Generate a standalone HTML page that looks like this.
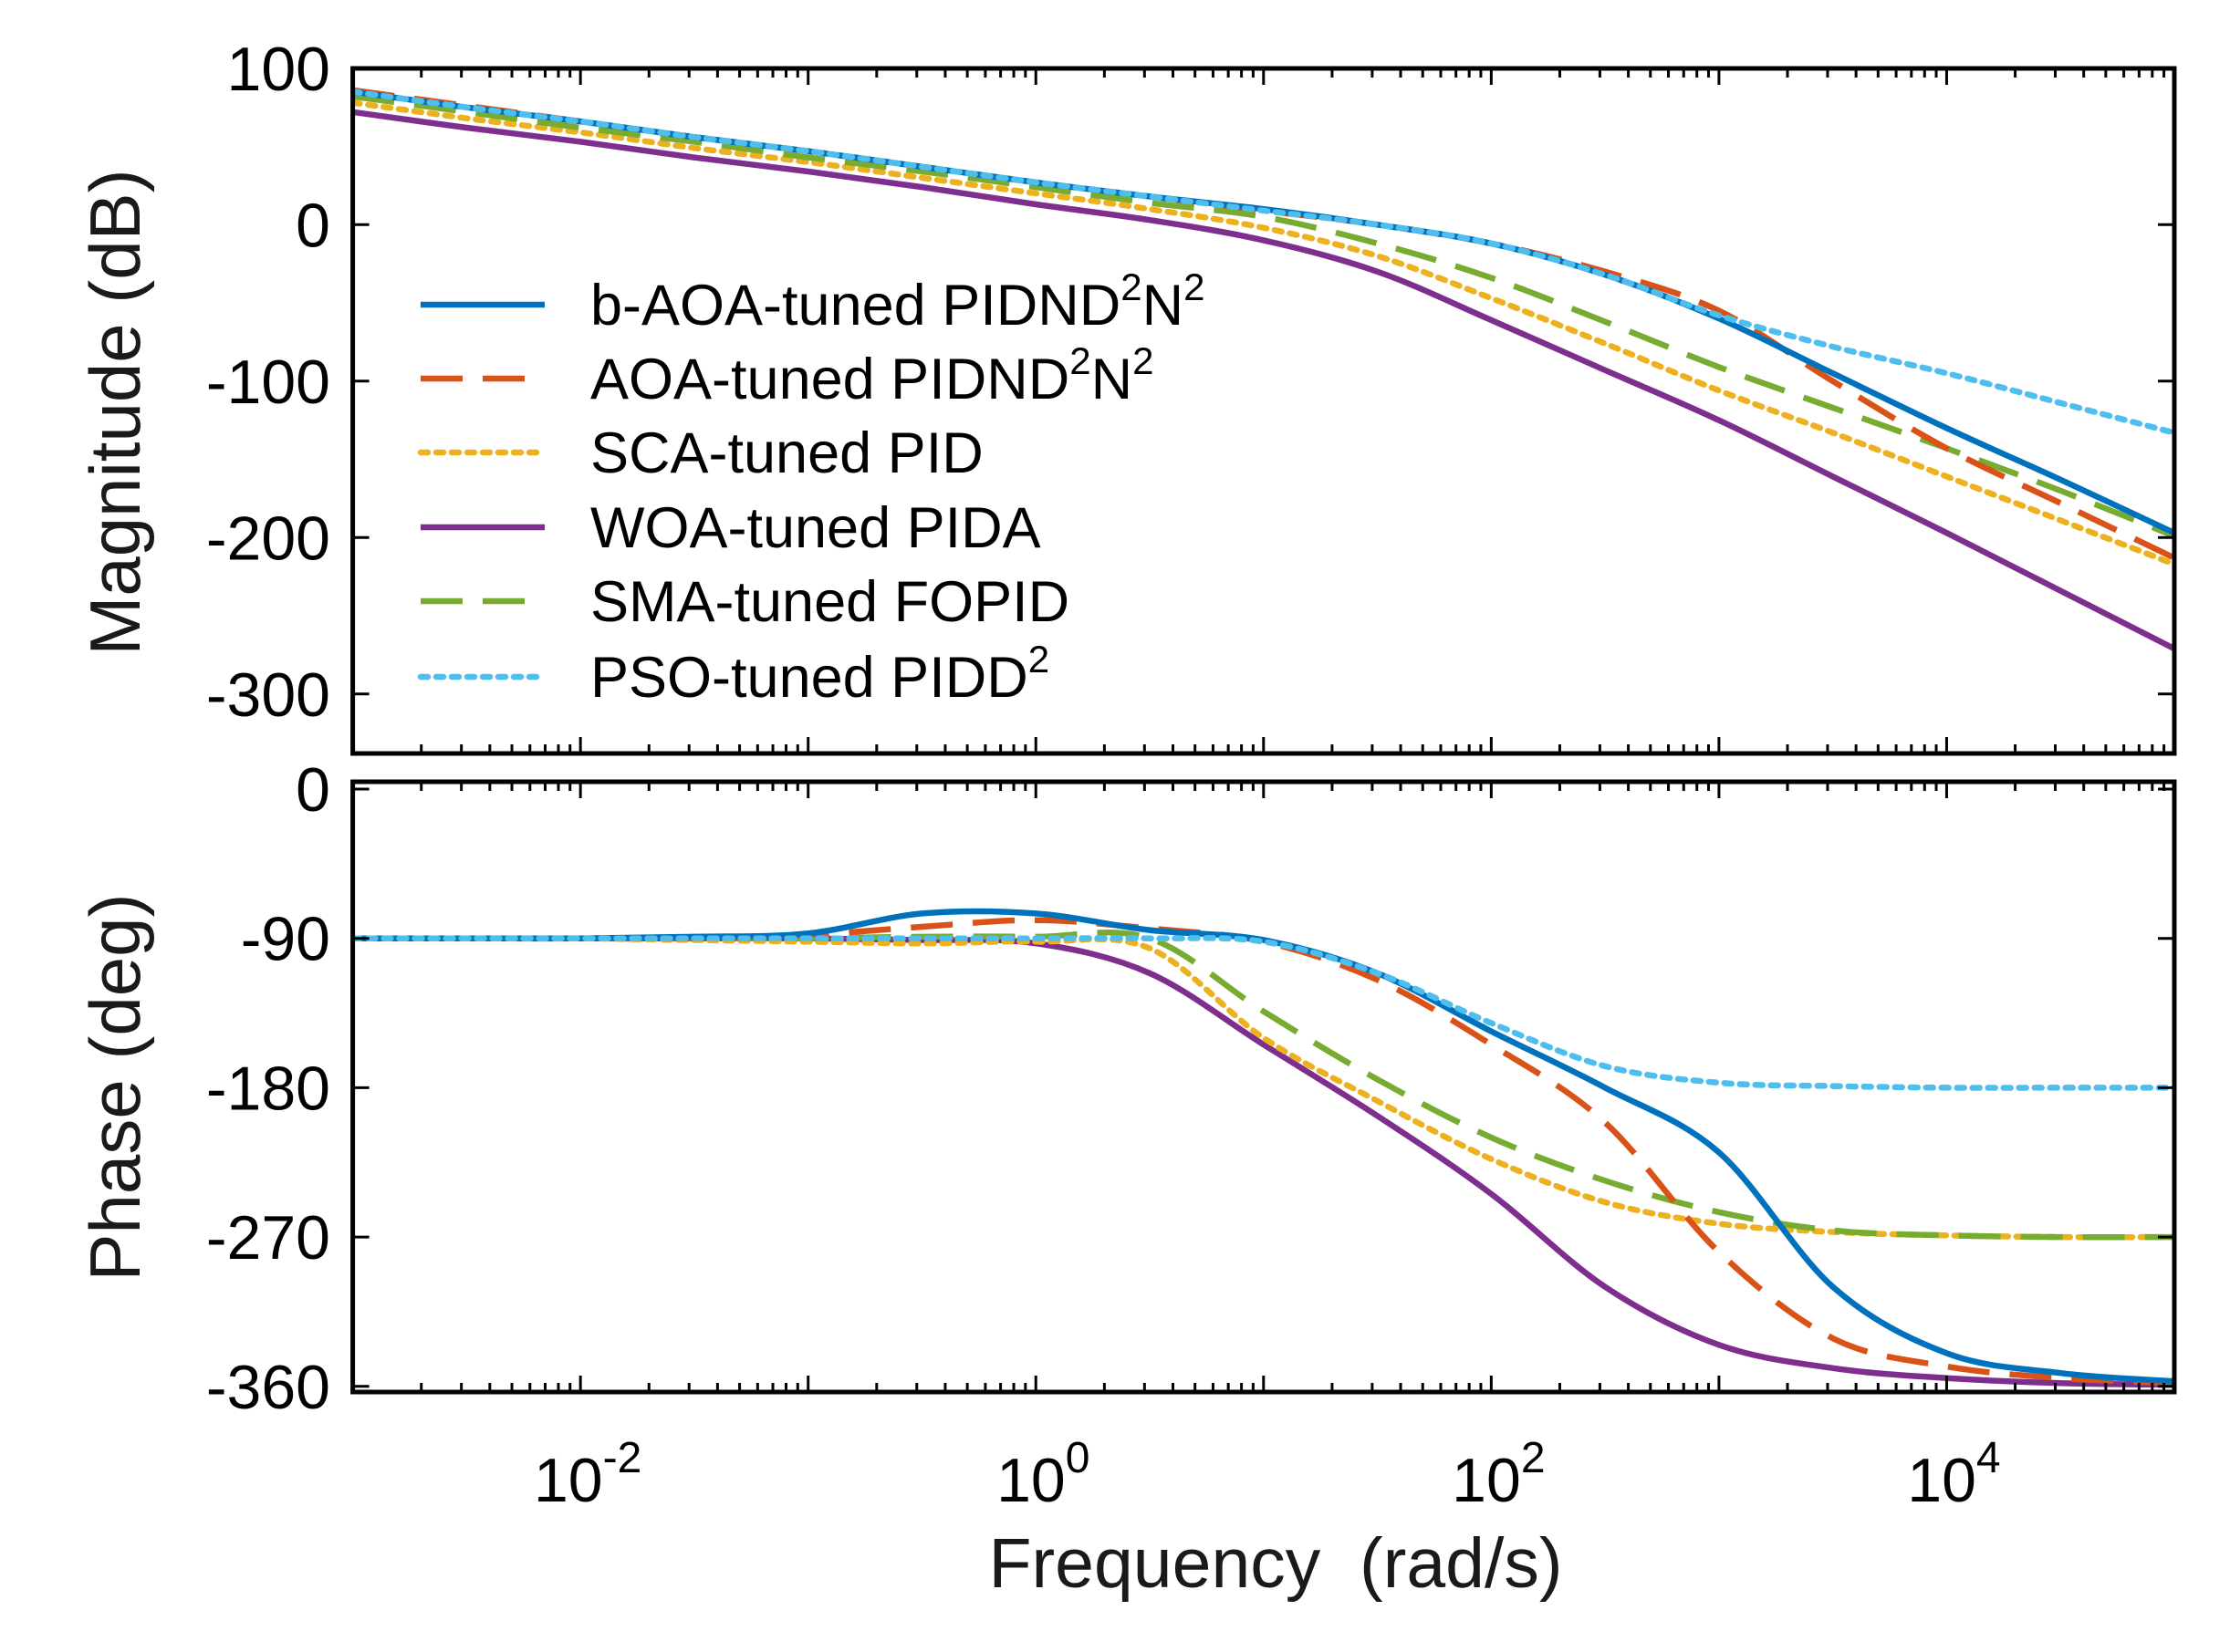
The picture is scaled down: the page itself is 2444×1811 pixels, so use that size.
<!DOCTYPE html>
<html><head><meta charset="utf-8"><style>
html,body{margin:0;padding:0;background:#fff;}
svg{display:block;font-family:"Liberation Sans",Arial,sans-serif;}
</style></head><body>
<svg id="chart" width="2444" height="1811" viewBox="0 0 2444 1811" xmlns="http://www.w3.org/2000/svg"></svg>
<script>
const exps = [-3,-2.5,-2,-1.5,-1,-0.5,0,0.5,1,1.5,2,2.5,3,3.5,4,4.5,5];
const seriesNames = ["b-AOA-tuned PIDND2N2","AOA-tuned PIDND2N2","SCA-tuned PID","WOA-tuned PIDA","SMA-tuned FOPID","PSO-tuned PIDD2"];
const magBlue   = [85,75,66,56,47,37,27,18,10,0,-12,-32,-60,-95,-130,-163,-197];
const magRed    = [86,76,66,56,47,37,27,18,9,0,-12,-30,-55,-100,-143,-178,-213];
const magYellow = [78,68,59,49,40,30,20,10,-2,-20,-47,-76,-106,-133,-161,-189,-217];
const magPurple = [72,62,53,43,34,24,13,3,-10,-30,-61,-93,-125,-161,-197,-234,-271];
const magGreen  = [82,72,62,53,43,34,24,14,5,-12,-34,-62,-91,-117,-143,-170,-199];
const magCyan   = [85,75,66,56,47,37,27,18,9,0,-12,-32,-58,-78,-95,-114,-133];
const phBlue   = [-90,-90,-90,-89,-87,-75,-75,-85,-91,-111,-146,-180,-219,-300,-340,-352,-357];
const phRed    = [-90,-90,-90,-90,-88,-83,-79,-84,-92,-115,-154,-201,-279,-331,-348,-355,-358];
const phYellow = [-90,-90,-90,-91,-92,-93,-92,-96,-150,-188,-223,-249,-262,-267,-269,-270,-270];
const phPurple = [-90,-90,-90,-90,-90,-91,-93,-111,-154,-197,-244,-300,-335,-349,-355,-358,-359];
const phGreen  = [-90,-90,-90,-90,-90,-89,-89,-90,-134,-175,-210,-236,-255,-266,-269,-270,-270];
const phCyan   = [-90,-90,-90,-90,-90,-90,-90,-90,-92,-111,-141,-167,-177,-179,-180,-180,-180];
const magTicks = [100,0,-100,-200,-300];
const phTicks = [0,-90,-180,-270,-360];
const xTickExps = [-2,0,2,4];

const NS="http://www.w3.org/2000/svg";
const svg=document.getElementById('chart');
function mk(tag,attrs,parent){const e=document.createElementNS(NS,tag);for(const k in attrs)e.setAttribute(k,attrs[k]);(parent||svg).appendChild(e);return e;}
const L=386.6,R=2383;
const xs=e=>L+(e+3)*(R-L)/8;
const P1={top:75,bot:826,y:v=>246.3-v*1.715};
const P2={top:857,bot:1526,y:v=>1028.7-(v+90)*163.7/90};
const styles=[
 {c:"#0072BD",d:""},
 {c:"#D95319",d:"46 22"},
 {c:"#EDB120",d:"8 9"},
 {c:"#7E2F8E",d:""},
 {c:"#77AC30",d:"46 22"},
 {c:"#4DBEEE",d:"8 9"}];
const keys=["b-aoa","aoa","sca","woa","sma","pso"];
const LW=6.5;
function pathFor(arr,yf){
  const p=exps.map((e,i)=>[xs(e),yf(arr[i])]);
  let d="M"+p[0][0].toFixed(1)+","+p[0][1].toFixed(1);
  for(let i=0;i<p.length-1;i++){
    const p0=p[Math.max(0,i-1)],p1=p[i],p2=p[i+1],p3=p[Math.min(p.length-1,i+2)];
    const c1=[p1[0]+(p2[0]-p0[0])/6,p1[1]+(p2[1]-p0[1])/6];
    const c2=[p2[0]-(p3[0]-p1[0])/6,p2[1]-(p3[1]-p1[1])/6];
    d+=" C"+c1[0].toFixed(1)+","+c1[1].toFixed(1)+" "+c2[0].toFixed(1)+","+c2[1].toFixed(1)+" "+p2[0].toFixed(1)+","+p2[1].toFixed(1);
  }
  return d;
}
const defs=mk('defs',{});
function clip(id,P){const cp=mk('clipPath',{id:id},defs);mk('rect',{x:L,y:P.top,width:R-L,height:P.bot-P.top},cp);}
clip('c1',P1);clip('c2',P2);

const mags=[magBlue,magRed,magYellow,magPurple,magGreen,magCyan];
const phs=[phBlue,phRed,phYellow,phPurple,phGreen,phCyan];
const g1=mk('g',{'clip-path':'url(#c1)'});


const g2=mk('g',{'clip-path':'url(#c2)'});


const order=[3,2,4,1,0,5];
order.forEach(i=>{
  const s=styles[i];
  const cap=s.d.startsWith('8')?'round':'butt';
  const a=mk('path',{d:pathFor(mags[i],P1.y),fill:'none',stroke:s.c,'stroke-width':LW,'stroke-dasharray':s.d,'stroke-linecap':cap},g1);
  
  
  const b=mk('path',{d:pathFor(phs[i],P2.y),fill:'none',stroke:s.c,'stroke-width':LW,'stroke-dasharray':s.d,'stroke-linecap':cap},g2);
  
  
});

function axes(P,ticks,name){
  const g=mk('g',{});
  
  
  mk('rect',{x:L,y:P.top,width:R-L,height:P.bot-P.top,fill:'none',stroke:'#000','stroke-width':5},g);
  for(let d=-3;d<5;d++){
    for(let m=1;m<10;m++){
      const x=xs(d+Math.log10(m));
      const len=m===1?18:10;
      if(m===1&&d===-3)continue;
      mk('line',{x1:x,x2:x,y1:P.bot,y2:P.bot-len,stroke:'#000','stroke-width':3},g);
      mk('line',{x1:x,x2:x,y1:P.top,y2:P.top+len,stroke:'#000','stroke-width':3},g);
    }
  }
  ticks.forEach(v=>{
    const y=P.y(v);
    mk('line',{x1:L,x2:L+18,y1:y,y2:y,stroke:'#000','stroke-width':3},g);
    mk('line',{x1:R,x2:R-18,y1:y,y2:y,stroke:'#000','stroke-width':3},g);
    const t=mk('text',{x:362,y:y+24,'font-size':68,'text-anchor':'end',fill:'#000'},g);
    t.textContent=String(v);
    
    
  });
}
axes(P1,magTicks,'magnitude-axes');
axes(P2,phTicks,'phase-axes');

xTickExps.forEach(e=>{
  const x=xs(e);
  const t=mk('text',{x:x+8,y:1646,'font-size':68,'text-anchor':'middle',fill:'#000'});
  
  
  t.appendChild(document.createTextNode('10'));
  const sp=mk('tspan',{dy:-32,'font-size':48},t);sp.textContent=String(e);
});

function title(txt,x,y,rot,name,fs){
  const t=mk('text',{x:x,y:y,'font-size':fs,'text-anchor':'middle',fill:'#1a1a1a',transform:rot?`rotate(-90 ${x} ${y})`:''});
  t.textContent=txt;
  
  
}
title('Frequency\u00a0\u00a0(rad/s)',1398,1740,false,'x-axis-title',77);
title('Magnitude (dB)',153,452,true,'y-axis-title-magnitude',78);
title('Phase (deg)',153,1192,true,'y-axis-title-phase',78);

const lg=mk('g',{});


const legY=[334,415,496,578,659,742];
const labels=[['b-AOA-tuned PIDND','2','N','2'],['AOA-tuned PIDND','2','N','2'],['SCA-tuned PID'],['WOA-tuned PIDA'],['SMA-tuned FOPID'],['PSO-tuned PIDD','2']];
legY.forEach((y,i)=>{
  const s=styles[i];
  const e=mk('g',{},lg);
  
  
  mk('line',{x1:461,x2:597,y1:y,y2:y,stroke:s.c,'stroke-width':LW,'stroke-dasharray':s.d,'stroke-linecap':s.d.startsWith('8')?'round':'butt'},e);
  const t=mk('text',{x:647,y:y+22,'font-size':63,fill:'#000'},e);
  const parts=labels[i];
  parts.forEach((p,k)=>{
    const sp=mk('tspan',k%2===1?{dy:-27,'font-size':42}:(k>0?{dy:27,'font-size':63}:{}),t);
    sp.textContent=p;
  });
});
</script>
</body></html>
